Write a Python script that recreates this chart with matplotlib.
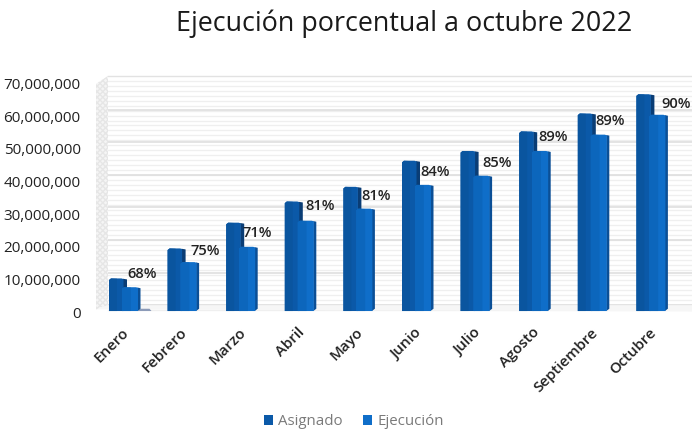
import matplotlib
matplotlib.use("Agg")
import matplotlib.pyplot as plt
from matplotlib.patches import Polygon
from matplotlib.transforms import ScaledTranslation
import numpy as np

meses = ["Enero", "Febrero", "Marzo", "Abril", "Mayo", "Junio", "Julio", "Agosto", "Septiembre", "Octubre"]
asignado = [10.3, 19.5, 27.4, 33.9, 38.4, 46.4, 49.4, 55.4, 60.9, 66.8]
ejecucion = [7.6, 15.3, 20.0, 28.0, 31.7, 39.0, 41.8, 49.4, 54.4, 60.5]
porcentajes = ["68%", "75%", "71%", "81%", "81%", "84%", "85%", "89%", "89%", "90%"]
label_dx = [17.5, 22, 16, 20, 17, 17.5, 21, 18, 17, 24]
label_dy = [4, -3, -10, -5, -9, -11, -12, -6, -8, -10]
y_ticks = [0, 10, 20, 30, 40, 50, 60, 70]
y_labels = ["0", "10,000,000", "20,000,000", "30,000,000", "40,000,000", "50,000,000", "60,000,000", "70,000,000"]

W, H = 692, 430
FONT = ["Open Sans", "DejaVu Sans"]
plt.rcParams["font.family"] = FONT
fig = plt.figure(figsize=(W / 100, H / 100), dpi=100, facecolor="white")
L, T, B = 96, 74, 312
ax = fig.add_axes([L / W, 1 - B / H, 1 - L / W, (B - T) / H])
PXX = 1 / 58.6
PXY = 10 / 32.6
ax.set_xlim((L - 124.5) * PXX, (W - 124.5) * PXX)
ax.set_ylim(0, (B - T) * PXY)
for s in ax.spines.values():
    s.set_visible(False)
ax.set_xticks(range(len(meses)))
ax.set_xticklabels(meses, rotation=45, ha="right", rotation_mode="anchor",
                   fontsize=10.8, fontweight="semibold", color="#222222")
ax.tick_params(axis="x", length=0, pad=9)
shift = ScaledTranslation(-3 / 100, -1 / 100, fig.dpi_scale_trans)
for t in ax.get_xticklabels():
    t.set_transform(t.get_transform() + shift)
ax.set_yticks(y_ticks)
ax.set_yticklabels(y_labels, fontsize=11, color="#222222")
ax.tick_params(axis="y", length=0, pad=11)

# back wall grid
wall_left = (108 - 124.5) * PXX
xr = ax.get_xlim()[1]
for v in np.arange(0.6, 72, 1.53):
    ax.plot([wall_left, xr], [v, v], color="#EFEFEF", lw=0.9, zorder=1)
for v in np.arange(2.1, 72, 10):
    ax.plot([wall_left, xr], [v, v], color="#DFDFDF", lw=1.2, zorder=1)
ax.plot([wall_left, xr], [72.4, 72.4], color="#E2E2E2", lw=1.0, zorder=1)
# left wall and floor
xl = ax.get_xlim()[0]
ax.add_patch(Polygon([(xl, 0.8), (wall_left, 2.1), (wall_left, 72.4), (xl, 70.0)],
                     fc="#F5F5F5", ec="#E6E6E6", zorder=1, hatch="xxxxxx", lw=0))
ax.add_patch(Polygon([(xl, 0.8), (wall_left, 2.1), (xr, 2.1), (xr, 0.2)],
                     fc="#F6F6F6", ec="none", zorder=1))

def bar3d(c, left, right, value, face, shade, side, depth, z):
    a, b = c + left * PXX, c + right * PXX
    d = depth * PXX
    top = value
    ax.add_patch(Polygon([(b - 0.5 * PXX, 0.3), (b + d, 1.0), (b + d, top - 0.3), (b - 0.5 * PXX, top - 0.1)], fc=side, ec="none", zorder=z))
    ax.add_patch(Polygon([(a, 0.3), (b, 0.3), (b, top - 0.2), (b - 2 * PXX, top), (a + 2 * PXX, top), (a, top - 0.5)],
                         fc=face, ec="none", zorder=z))
    ax.add_patch(Polygon([(a, 0.3), (a + 0.55 * (b - a), 0.3), (a + 0.55 * (b - a), top - 0.1), (a + 2 * PXX, top), (a, top - 0.5)],
                         fc=shade, ec="none", zorder=z))

for i, (va, ve) in enumerate(zip(asignado, ejecucion)):
    bar3d(i, -15.5, -1.0, va, "#0B59A8", "#0A559F", "#0A3D75", 3.5, 3)
    bar3d(i, -2.5, 13.5, ve, "#0F6EC9", "#0C66BC", "#0B4F96", 2.5, 4)
    ax.annotate(porcentajes[i], xy=(i, va), xytext=(label_dx[i], label_dy[i]), textcoords="offset pixels",
                ha="center", va="center", fontsize=10.6, fontweight="semibold", color="#222222", zorder=6)

# tiny flat mark next to the first group
ax.add_patch(Polygon([(13 * PXX, 0.3), (27 * PXX, 0.3), (25 * PXX, 1.0), (15 * PXX, 1.0)], fc="#8C9BB8", ec="none", zorder=3))

fig.text(404 / W, 1 - 24 / H, "Ejecución porcentual a octubre 2022", ha="center", va="center",
         fontsize=19.4, color="#1a1a1a")

# legend
handles = [plt.Rectangle((0, 0), 1, 1, fc="#0B59A8"), plt.Rectangle((0, 0), 1, 1, fc="#0F6EC9")]
fig.legend(handles, ["Asignado", "Ejecución"], loc="center", bbox_to_anchor=(354 / W, 1 - 421.5 / H), ncol=2,
           frameon=False, fontsize=10.8, labelcolor="#7a7a7a", handlelength=0.62, handleheight=0.62,
           handletextpad=0.35, columnspacing=1.35, borderpad=0)
fig.savefig("out.png", dpi=100, facecolor="white")
